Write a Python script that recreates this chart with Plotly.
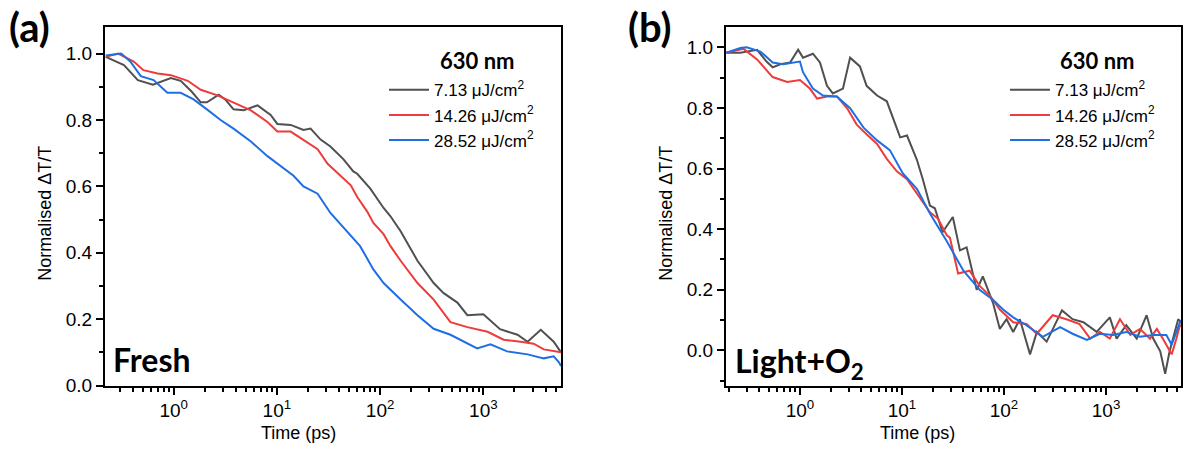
import plotly.graph_objects as go

# ---------------- data: normalised dT/T transients at 630 nm ----------------
series_names = ["7.13 μJ/cm<sup>2</sup>", "14.26 μJ/cm<sup>2</sup>", "28.52 μJ/cm<sup>2</sup>"]
series_colors = ["#505050", "#EE3B3B", "#1F6FE3"]

# (a) Fresh film
fresh_t_713 = [0.22, 0.33, 0.45, 0.63, 0.94, 1.17, 1.5, 1.83, 2.1, 2.73, 3.2, 3.8, 4.76, 6.5, 8.7, 10.1,
               13.6, 18.1, 21.2, 26.5, 33, 44, 55, 60, 80, 86, 108, 126, 158, 230, 330, 410, 560, 700,
               1000, 1450, 2140, 2680, 3600, 4800, 5400, 5650]
fresh_y_713 = [0.99, 0.965, 0.92, 0.906, 0.926, 0.918, 0.885, 0.853, 0.853, 0.876, 0.86, 0.832, 0.829,
               0.844, 0.815, 0.788, 0.785, 0.77, 0.774, 0.741, 0.72, 0.682, 0.645, 0.638, 0.594, 0.58,
               0.535, 0.51, 0.465, 0.376, 0.309, 0.279, 0.25, 0.212, 0.215, 0.17, 0.153, 0.132, 0.168,
               0.132, 0.109, 0.1]

fresh_t_1426 = [0.22, 0.29, 0.41, 0.51, 0.7, 0.94, 1.37, 1.83, 2.66, 3.8, 5.6, 8.1, 10.1, 13.6, 18.1,
                24.8, 31, 41, 52, 60, 75, 86, 108, 126, 158, 230, 330, 480, 700, 1100, 1570, 2300,
                3070, 3850, 5200, 5650]
fresh_y_1426 = [0.99, 1.0, 0.976, 0.95, 0.94, 0.935, 0.918, 0.891, 0.874, 0.853, 0.829, 0.794, 0.765,
                0.765, 0.741, 0.712, 0.668, 0.632, 0.603, 0.568, 0.524, 0.49, 0.456, 0.42, 0.376, 0.309,
                0.259, 0.191, 0.176, 0.162, 0.138, 0.132, 0.126, 0.109, 0.103, 0.1]

fresh_t_2852 = [0.22, 0.31, 0.38, 0.48, 0.64, 0.87, 1.17, 1.56, 2.1, 2.85, 3.8, 5.6, 8.1, 10.8, 14.5,
                18.1, 24.8, 33, 48, 64, 86, 108, 158, 230, 330, 480, 870, 1170, 1700, 2680, 3850, 4800,
                5400, 5650]
fresh_y_2852 = [0.994, 1.0, 0.976, 0.932, 0.92, 0.882, 0.882, 0.862, 0.832, 0.8, 0.774, 0.735, 0.691,
                0.662, 0.632, 0.6, 0.578, 0.52, 0.462, 0.42, 0.35, 0.309, 0.259, 0.212, 0.171, 0.153,
                0.112, 0.124, 0.103, 0.094, 0.082, 0.088, 0.07, 0.059]

# (b) Light + O2 treated film
aged_t_713 = [0.19, 0.26, 0.38, 0.47, 0.54, 0.64, 0.8, 0.96, 1.07, 1.34, 1.57, 1.84, 2.1, 2.64, 3.1,
              3.87, 4.5, 5.7, 7.1, 8.2, 9.6, 11.2, 14, 16, 18.8, 21, 25, 31.5, 37, 43, 54, 62, 78, 91,
              106, 123, 143, 180, 210, 262, 370, 470, 600, 810, 1090, 1270, 1580, 2000, 2500, 2900,
              3400, 3800, 4200, 5100, 5500]
aged_y_713 = [0.982, 0.982, 0.992, 0.953, 0.934, 0.944, 0.95, 0.992, 0.966, 0.979, 0.95, 0.873, 0.848,
              0.864, 0.966, 0.937, 0.873, 0.841, 0.822, 0.767, 0.703, 0.709, 0.629, 0.565, 0.478,
              0.469, 0.39, 0.44, 0.33, 0.34, 0.2, 0.244, 0.157, 0.071, 0.103, 0.061, 0.103, -0.013,
              0.061, 0.029, 0.132, 0.103, 0.093, 0.061, 0.109, 0.039, 0.083, 0.039, 0.116, 0.039,
              -0.003, -0.077, -0.003, 0.103, 0.09]

aged_t_1426 = [0.19, 0.26, 0.28, 0.38, 0.54, 0.75, 1.0, 1.25, 1.47, 1.84, 2.3, 2.9, 3.6, 4.5, 5.7, 7.1,
               8.9, 11.2, 15, 18.8, 22.5, 27.5, 29.5, 35.5, 46, 58, 73, 91, 123, 166, 210, 300, 410,
               550, 700, 870, 1090, 1370, 1730, 2150, 2700, 3150, 3600, 4400, 4900, 5300, 5500]
aged_y_1426 = [0.982, 0.992, 0.995, 0.96, 0.902, 0.886, 0.892, 0.864, 0.831, 0.838, 0.838, 0.799,
               0.745, 0.713, 0.681, 0.632, 0.591, 0.565, 0.501, 0.456, 0.435, 0.38, 0.372, 0.254,
               0.263, 0.212, 0.18, 0.135, 0.093, 0.087, 0.055, 0.116, 0.103, 0.087, 0.039, 0.061,
               0.039, 0.103, 0.051, 0.071, 0.039, 0.071, 0.039, -0.013, 0.039, 0.083, 0.08]

aged_t_2852 = [0.19, 0.26, 0.3, 0.41, 0.54, 0.68, 1.0, 1.07, 1.34, 1.68, 2.3, 3.1, 4.2, 5.7, 7.6, 10.2,
               14, 18.8, 27.5, 40, 58, 78, 98, 123, 166, 240, 355, 470, 650, 870, 1170, 1580, 2150,
               2900, 3900, 4400, 4900, 5300, 5500]
aged_y_2852 = [0.982, 0.998, 1.0, 0.986, 0.95, 0.944, 0.953, 0.918, 0.864, 0.841, 0.838, 0.799, 0.735,
               0.693, 0.661, 0.584, 0.533, 0.452, 0.36, 0.263, 0.199, 0.167, 0.135, 0.109, 0.083,
               0.045, 0.077, 0.055, 0.035, 0.055, 0.051, 0.061, 0.045, 0.051, 0.051, 0.019, 0.061,
               0.093, 0.1]

x_tickvals = [1, 10, 100, 1000]
x_ticktext = ["10<sup>0</sup>", "10<sup>1</sup>", "10<sup>2</sup>", "10<sup>3</sup>"]
x_minor = [m * 10.0 ** e for e in range(-1, 4) for m in range(2, 10)]

fresh = [(fresh_t_713, fresh_y_713), (fresh_t_1426, fresh_y_1426), (fresh_t_2852, fresh_y_2852)]
aged = [(aged_t_713, aged_y_713), (aged_t_1426, aged_y_1426), (aged_t_2852, aged_y_2852)]

# ---------------- figure ----------------
W, H = 1183, 461
SANS = "Arial"
BOLD_FONT = "Lato"


def tick_font():
    return dict(family=SANS, size=19, color="black")


def legend_font():
    return dict(family=SANS, size=17, color="black")


def title_font():
    return dict(family=SANS, size=18, color="black")


fig = go.Figure()

for i, (t, y) in enumerate(fresh):
    fig.add_trace(go.Scatter(x=t, y=y, mode="lines", name=series_names[i],
                             line=dict(color=series_colors[i], width=2),
                             xaxis="x", yaxis="y", legend="legend"))
for i, (t, y) in enumerate(aged):
    fig.add_trace(go.Scatter(x=t, y=y, mode="lines", name=series_names[i],
                             line=dict(color=series_colors[i], width=2),
                             xaxis="x2", yaxis="y2", legend="legend2"))

dom_y = [1 - 395 / H, 1 - 28 / H]
dom_a = [105 / W, 561 / W]
dom_b = [726 / W, 1181 / W]


def log_axis(dom, rng, anchor):
    return dict(domain=dom, type="log", range=rng, anchor=anchor,
                tickmode="array", tickvals=x_tickvals, ticktext=x_ticktext,
                ticks="outside", ticklen=7, tickwidth=2, tickcolor="black",
                minor=dict(tickmode="array", tickvals=x_minor, ticks="outside",
                           ticklen=4, tickwidth=1.5, tickcolor="black"),
                showline=True, linecolor="black", linewidth=2, mirror=True,
                showgrid=False, zeroline=False, tickfont=tick_font())


def lin_axis(rng, anchor):
    return dict(domain=dom_y, range=rng, anchor=anchor, dtick=0.2, tick0=0,
                tickformat=".1f", ticks="outside", ticklen=7, tickwidth=2, tickcolor="black",
                minor=dict(dtick=0.1, tick0=0, ticks="outside", ticklen=4, tickwidth=1.5,
                           tickcolor="black"),
                showline=True, linecolor="black", linewidth=2, mirror=True,
                showgrid=False, zeroline=False, tickfont=tick_font())


def opposite_x(over, anchor):
    return dict(overlaying=over, side="top", anchor=anchor, range=[0, 10], dtick=1,
                ticks="inside", ticklen=5, tickwidth=2, tickcolor="black",
                showticklabels=False, showgrid=False, zeroline=False, showline=False)


def opposite_y(over, anchor):
    return dict(overlaying=over, side="right", anchor=anchor, range=[0, 10], dtick=1,
                ticks="inside", ticklen=5, tickwidth=2, tickcolor="black",
                showticklabels=False, showgrid=False, zeroline=False, showline=False)


def legend_box(x_px):
    return dict(x=x_px / W, y=1 - 74 / H, xanchor="left", yanchor="top",
                bgcolor="rgba(0,0,0,0)", borderwidth=0, font=legend_font(),
                itemwidth=40, tracegroupgap=0)


fig.update_layout(
    width=W, height=H, margin=dict(l=0, r=0, t=0, b=0),
    paper_bgcolor="white", plot_bgcolor="white",
    font=dict(family=SANS, color="black"),
    xaxis=log_axis(dom_a, [-0.665, 3.752], "y"),
    yaxis=lin_axis([0, 1.079], "x"),
    xaxis2=log_axis(dom_b, [-0.725, 3.735], "y2"),
    yaxis2=lin_axis([-0.116, 1.066], "x2"),
    xaxis3=opposite_x("x", "y"),
    yaxis3=opposite_y("y", "x"),
    xaxis4=opposite_x("x2", "y2"),
    yaxis4=opposite_y("y2", "x2"),
    legend=legend_box(384),
    legend2=legend_box(1005),
    showlegend=True,
)

annotations = [
    dict(text="<b>(a)</b>", x=7 / W, y=1 - 28 / H, font=dict(family=BOLD_FONT, size=40)),
    dict(text="<b>(b)</b>", x=626 / W, y=1 - 28 / H, font=dict(family=BOLD_FONT, size=40)),
    dict(text="<b>Fresh</b>", x=111 / W, y=1 - 368 / H, font=dict(family=BOLD_FONT, size=32)),
    dict(text="<b>Light+O<sub>2</sub></b>", x=733 / W, y=1 - 372 / H,
         font=dict(family=BOLD_FONT, size=32)),
    dict(text="<b>630 nm</b>", x=477 / W, y=1 - 62 / H, xanchor="center",
         font=dict(family=BOLD_FONT, size=22)),
    dict(text="<b>630 nm</b>", x=1097 / W, y=1 - 62 / H, xanchor="center",
         font=dict(family=BOLD_FONT, size=22)),
    dict(text="Time (ps)", x=298 / W, y=1 - 444 / H, xanchor="center", font=title_font()),
    dict(text="Time (ps)", x=918 / W, y=1 - 444 / H, xanchor="center", font=title_font()),
    dict(text="Normalised ΔT/T", x=45 / W, y=1 - 219 / H, textangle=-90, xanchor="center",
         font=title_font()),
    dict(text="Normalised ΔT/T", x=666 / W, y=1 - 219 / H, textangle=-90, xanchor="center",
         font=title_font()),
]
for a in annotations:
    a.setdefault("xanchor", "left")
    a.setdefault("yanchor", "middle")
    a.update(xref="paper", yref="paper", showarrow=False)
    a["font"].setdefault("color", "black")
fig.update_layout(annotations=annotations)

fig.write_html("out.html")
